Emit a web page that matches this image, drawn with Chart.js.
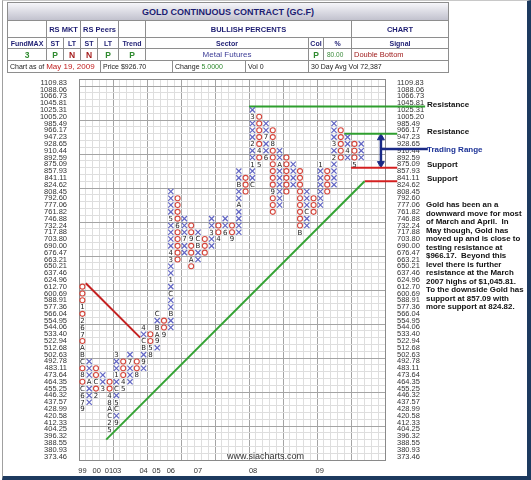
<!DOCTYPE html>
<html>
<head>
<meta charset="utf-8">
<title>Gold Continuous Contract (GC.F)</title>
<script src="https://cdn.jsdelivr.net/npm/chart.js"></script>
<style>
  html, body { margin: 0; padding: 0; background: #fff; }
  #page { position: relative; width: 531px; height: 480px; overflow: hidden; font-family: "Liberation Sans", Arial, sans-serif; }
  #frame { position: absolute; left: 2px; top: 0; width: 529px; height: 480px; box-sizing: border-box;
           border-left: 1px solid #a0a0a0; border-top: 1px solid #c8c8c8;
           border-right: 4px solid #1d3a5f; border-bottom: 4px solid #1d3a5f; }
  #chart { position: absolute; left: 0; top: 0; }
  .cell { position: absolute; box-sizing: border-box; border: 1px solid #8e8e8e; display: flex; align-items: center;
          justify-content: center; white-space: nowrap; overflow: hidden; color: #1d1d72; background: #fff; }
  .t { font-weight: bold; font-size: 9px; background: linear-gradient(#f6f6fa, #c2c2ce); }
  .h2 { font-weight: bold; font-size: 7.5px; }
  .h3 { font-weight: bold; font-size: 7px; }
  .g { font-weight: bold; font-size: 8.5px; color: #2f8a2f; }
  .r { font-weight: bold; font-size: 8.5px; color: #a51c1c; }
  .sec { font-size: 8px; color: #3c3c96; }
  .pc { font-size: 6.5px; color: #3a8a3a; justify-content: flex-start; padding-left: 3px; }
  .sig { font-size: 7.5px; color: #a01c1c; justify-content: flex-start; padding-left: 2px; }
  .info { font-size: 7px; color: #222; justify-content: flex-start; padding-left: 2px; }
  .note { position: absolute; left: 427px; font-weight: bold; font-size: 8px; line-height: 9px; color: #111; white-space: nowrap; }
  #para { position: absolute; left: 426px; top: 201px; font-weight: bold; font-size: 7.9px; line-height: 8.5px; color: #111; white-space: nowrap; }
  #site { position: absolute; left: 227px; top: 451px; font-size: 9px; color: #333; }
</style>
</head>
<body>
<div id="page">
  <canvas id="chart" width="531" height="480"></canvas>
  <div id="frame"></div>
  <div id="hdr"></div>
  <div id="site">www.siacharts.com</div>
  <div class="note" style="top:100px">Resistance</div>
  <div class="note" style="top:127px">Resistance</div>
  <div class="note" style="top:145px; color:#1c3296">Trading Range</div>
  <div class="note" style="top:160px">Support</div>
  <div class="note" style="top:174px">Support</div>
  <div id="para">Gold has been an a<br>downward move for most<br>of March and April.&nbsp; In<br>May though, Gold has<br>moved up and is close to<br>testing resistance at<br>$966.17.&nbsp; Beyond this<br>level there is further<br>resistance at the March<br>2007 highs of $1,045.81.<br>To the downside Gold has<br>support at 857.09 with<br>more support at 824.82.</div>
</div>
<script>
// box values, top to bottom
const boxLabels = ['1109.83','1088.06','1066.73','1045.81','1025.31','1005.20','985.49','966.17','947.23','928.65',
  '910.44','892.59','875.09','857.93','841.11','824.62','808.45','792.60','777.06','761.82','746.88','732.24',
  '717.88','703.80','690.00','676.47','663.21','650.21','637.46','624.96','612.70','600.69','588.91','577.36',
  '566.04','554.95','544.06','533.40','522.94','512.68','502.63','492.78','483.11','473.64','464.35','455.25',
  '446.32','437.57','428.99','420.58','412.33','404.25','396.32','388.55','380.93','373.46'];

// one entry per column: X or O, highest and lowest box (index in boxLabels)
const colType   = ['O','X','O','X','O','X','O','X','O','X','O','X','O','X','O','X','O','X','O','X','O',
                   'X','O','X','O','X','O','X','O','X','O','X','O','X','O','X','O','X','O','X','O','X'];
const colTop    = [30,41,42,43,44,40,41,40,41,36,37,34,35,16,17,20,21,22,23,20,21,20,21,13,14,4,5,6,7,10,11,12,13,16,17,12,13,6,7,8,9,9];
const colBottom = [48,47,46,45,51,50,45,44,43,42,40,39,37,36,26,25,27,26,25,24,23,22,23,22,16,15,12,11,19,18,16,15,22,21,19,18,16,15,11,11,12,11];

// month markers: [column, box, month]
const monthMarks = [
  [0,33,'1'],[0,35,'2'],[0,36,'6'],[0,37,'7'],[0,39,'A'],[0,40,'B'],[0,41,'C'],[0,43,'8'],[0,45,'C'],[0,46,'6'],[0,47,'7'],[0,48,'9'],
  [1,44,'A'],[2,44,'C'],[2,46,'2'],[3,45,'3'],
  [4,46,'4'],[4,47,'8'],[4,48,'A'],[4,49,'C'],[4,50,'2'],[4,51,'5'],
  [5,40,'3'],[5,43,'1'],[5,45,'C'],[5,47,'5'],[5,48,'C'],[5,50,'9'],
  [6,44,'4'],[6,45,'5'],[7,41,'7'],[8,43,'8'],
  [9,36,'4'],[9,38,'C'],[9,39,'B'],[9,41,'9'],[10,39,'5'],[10,40,'8'],
  [11,34,'C'],[11,36,'B'],[11,37,'A'],[11,38,'9'],[12,37,'9'],
  [13,34,'B'],[13,31,'C'],[13,29,'1'],[13,26,'3'],[13,25,'4'],[13,20,'5'],
  [14,21,'6'],[15,23,'7'],[16,23,'9'],[16,26,'A'],[17,23,'C'],[17,24,'B'],
  [19,22,'3'],[20,23,'4'],[21,22,'6'],[22,23,'9'],[23,15,'B'],[23,18,'A'],
  [25,15,'C'],[25,12,'1'],[25,9,'2'],[25,5,'3'],[26,10,'4'],[26,12,'5'],[27,11,'6'],[27,8,'7'],
  [28,9,'8'],[28,16,'9'],[29,12,'A'],[32,22,'B'],[33,19,'C'],[35,12,'1'],[37,11,'2'],[37,9,'3'],
  [39,10,'4'],[40,12,'5']
];

const yearLabels = ['99','00','01','03','04','05','06','07','08','09'];
const yearCols   = [0, 2.1, 3.9, 5.1, 9, 10.9, 13, 17, 25.1, 34.9];

const nCols = 45;

// header table
const hdr = document.getElementById('hdr');
function cell(x1, x2, y1, y2, html, cls) {
  const d = document.createElement('div');
  d.className = 'cell ' + (cls || '');
  d.style.left = x1 + 'px';
  d.style.top = y1 + 'px';
  d.style.width = (x2 - x1 + 1) + 'px';
  d.style.height = (y2 - y1 + 1) + 'px';
  d.innerHTML = html;
  hdr.appendChild(d);
}
cell(7, 448, 2, 20, 'GOLD CONTINUOUS CONTRACT (GC.F)', 't');
cell(7, 46, 20, 37, '');
cell(46, 80, 20, 37, 'RS MKT', 'h2');
cell(80, 118, 20, 37, 'RS Peers', 'h2');
cell(118, 145, 20, 37, '');
cell(145, 351, 20, 37, 'BULLISH PERCENTS', 'h2');
cell(351, 448, 20, 37, 'CHART', 'h2');
const r3 = [[7,46,'FundMAX'],[46,63,'ST'],[63,80,'LT'],[80,97,'ST'],[97,118,'LT'],[118,145,'Trend'],
            [145,308,'Sector'],[308,323,'Col'],[323,351,'%'],[351,448,'Signal']];
r3.forEach(c => cell(c[0], c[1], 37, 48, c[2], 'h3'));
cell(7, 46, 48, 60, '3', 'g');
cell(46, 63, 48, 60, 'P', 'g');
cell(63, 80, 48, 60, 'N', 'r');
cell(80, 97, 48, 60, 'N', 'r');
cell(97, 118, 48, 60, 'P', 'g');
cell(118, 145, 48, 60, 'P', 'g');
cell(145, 308, 48, 60, 'Metal Futures', 'sec');
cell(308, 323, 48, 60, 'P', 'g');
cell(323, 351, 48, 60, '80.00', 'pc');
cell(351, 448, 48, 60, 'Double Bottom', 'sig');
cell(7, 100, 60, 72, 'Chart as of&nbsp;<span style="color:#c02020;font-size:8px">May 19, 2009</span>', 'info');
cell(100, 172, 60, 72, 'Price $926.70', 'info');
cell(172, 245, 60, 72, 'Change&nbsp;<span style="color:#2f8a2f">5.0000</span>', 'info');
cell(245, 308, 60, 72, 'Vol 0', 'info');
cell(308, 448, 60, 72, '30 Day Avg Vol 72,387', 'info');

// boxes from the columns
const markAt = {};
monthMarks.forEach(m => { markAt[m[0] + ',' + m[1]] = m[2]; });
const xPts = [], oPts = [], mPts = [];
colTop.forEach((top, c) => {
  for (let r = top; r <= colBottom[c]; r++) {
    const t = markAt[c + ',' + r];
    if (t) mPts.push({x: c, y: r, t: t});
    else if (colType[c] === 'X') xPts.push({x: c, y: r});
    else oPts.push({x: c, y: r});
  }
});

// ticks: box edges carry the grid, centres / year columns carry the labels
const xEdges = Array.from({length: nCols + 1}, (_, k) => k - 0.5);
const xTickVals = xEdges.concat(yearCols).sort((a, b) => a - b);
const yEdges = Array.from({length: boxLabels.length + 1}, (_, k) => k - 0.5);
const yCentres = boxLabels.map((_, i) => i);
const yTickVals = yEdges.concat(yCentres).sort((a, b) => a - b);

function xGrid(c) {
  const k = c.tick.value + 0.5;
  if (!Number.isInteger(k)) return 'rgba(0,0,0,0)';
  if (k === 0 || k === nCols) return '#8a8a8a';
  return k % 5 === 0 ? '#a4a4a4' : '#dedede';
}
function yGrid(c) {
  const v = c.tick.value;
  if (Number.isInteger(v)) return 'rgba(0,0,0,0)';
  const k = v + 0.5;
  if (k === 0 || k === boxLabels.length) return '#8a8a8a';
  return (k - 1) % 5 === 0 ? '#a4a4a4' : '#dedede';
}

function seg(pts, color, w) {
  return {data: pts, showLine: true, borderColor: color, backgroundColor: color, borderWidth: w,
          pointRadius: 0, clip: false, fill: false};
}

const monthText = {
  id: 'monthText',
  afterDatasetsDraw(chart) {
    const ctx = chart.ctx;
    chart.data.datasets.forEach((ds, i) => {
      if (!ds.isMark) return;
      const meta = chart.getDatasetMeta(i);
      ctx.save();
      ctx.font = '7px "DejaVu Sans"';
      ctx.fillStyle = '#222';
      ctx.textAlign = 'center';
      ctx.textBaseline = 'middle';
      meta.data.forEach((pt, j) => ctx.fillText(ds.data[j].t, pt.x, pt.y + 0.5));
      ctx.restore();
    });
  }
};

const labelFont = {family: 'Liberation Sans', size: 7.5};
const green = '#2e9e2e', red = '#d42020', navy = '#1a2a86';

new Chart(document.getElementById('chart'), {
  type: 'scatter',
  data: {
    datasets: [
      {data: xPts, pointStyle: 'crossRot', pointRadius: 3.7, borderColor: '#6266c4', backgroundColor: '#6266c4', borderWidth: 1.2},
      {data: oPts, pointStyle: 'circle', pointRadius: 2.5, borderColor: '#d4463c', backgroundColor: 'rgba(0,0,0,0)', borderWidth: 1.1},
      {data: mPts, pointRadius: 0, isMark: true},
      seg([{x: 0.5, y: 29.5}, {x: 8.5, y: 37.5}], '#c42222', 2),
      seg([{x: 3.5, y: 52.5}, {x: 41.5, y: 14.5}], '#34a334', 2),
      seg([{x: 24.5, y: 3.5}, {x: 50.4, y: 3.5}], green, 2),
      seg([{x: 38.5, y: 7.5}, {x: 46.3, y: 7.5}], green, 2),
      seg([{x: 39.5, y: 12.5}, {x: 46.3, y: 12.5}], red, 2),
      seg([{x: 41.5, y: 14.5}, {x: 46.3, y: 14.5}], red, 2),
      seg([{x: 43.9, y: 8.2}, {x: 43.9, y: 11.8}], navy, 2.5),
      seg([{x: 43.9, y: 9.75}, {x: 50.8, y: 9.75}], navy, 2.5),
      {data: [{x: 43.9, y: 8.1}, {x: 43.9, y: 11.9}], pointStyle: 'triangle', rotation: [0, 180], pointRadius: 4,
       borderColor: navy, backgroundColor: navy, borderWidth: 1, clip: false}
    ]
  },
  options: {
    responsive: false,
    animation: false,
    devicePixelRatio: 1,
    events: [],
    layout: {padding: {top: 79.3, left: 0, right: 0, bottom: 0}},
    plugins: {legend: {display: false}, tooltip: {enabled: false}},
    scales: {
      x: {
        type: 'linear', min: -0.5, max: nCols - 0.5,
        afterBuildTicks(s) { s.ticks = xTickVals.map(v => ({value: v})); },
        afterFit(s) { s.height = 20; },
        ticks: {
          autoSkip: false, maxRotation: 0, padding: 6, color: '#333', font: labelFont,
          callback(v) { const i = yearCols.indexOf(v); return i >= 0 ? yearLabels[i] : ''; }
        },
        grid: {drawTicks: false, color: xGrid},
        border: {color: '#8a8a8a'}
      },
      y: {
        type: 'linear', position: 'left', reverse: true, min: -0.5, max: boxLabels.length - 0.5,
        afterBuildTicks(s) { s.ticks = yTickVals.map(v => ({value: v})); },
        afterFit(s) { s.width = 79; },
        ticks: {
          autoSkip: false, padding: 12, color: '#333', font: labelFont,
          callback(v) { return Number.isInteger(v) ? boxLabels[v] : ''; }
        },
        grid: {drawTicks: false, color: yGrid},
        border: {color: '#8a8a8a'}
      },
      y2: {
        type: 'linear', position: 'right', reverse: true, min: -0.5, max: boxLabels.length - 0.5,
        afterBuildTicks(s) { s.ticks = yCentres.map(v => ({value: v})); },
        afterFit(s) { s.width = 146; },
        ticks: {
          autoSkip: false, padding: 12, color: '#333', font: labelFont,
          callback(v) { return boxLabels[v]; }
        },
        grid: {display: false, drawTicks: false},
        border: {color: '#8a8a8a'}
      }
    }
  },
  plugins: [monthText]
});
</script>
</body>
</html>
